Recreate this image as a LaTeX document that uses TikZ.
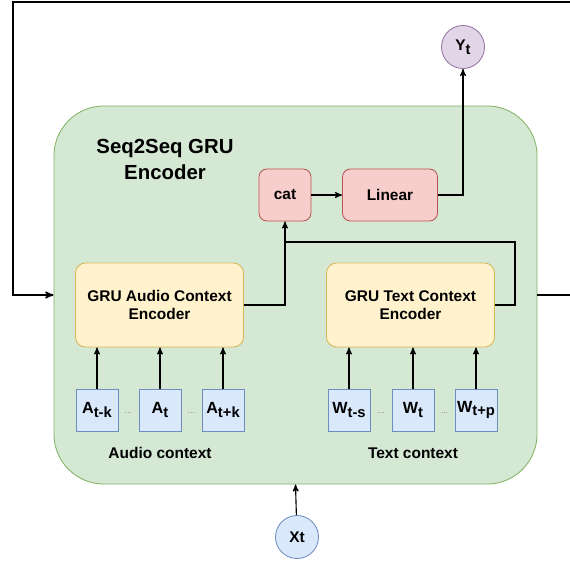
\documentclass[tikz,border=0pt]{standalone}
\usepackage{fontspec}
\setmainfont{Liberation Sans}
\usetikzlibrary{arrows}

\definecolor{encfill}{HTML}{D5E8D4}
\definecolor{encline}{HTML}{82B366}
\definecolor{grufill}{HTML}{FFF2CC}
\definecolor{gruline}{HTML}{D6B656}
\definecolor{opfill}{HTML}{F8CECC}
\definecolor{opline}{HTML}{B85450}
\definecolor{ctxfill}{HTML}{DAE8FC}
\definecolor{ctxline}{HTML}{6C8EBF}
\definecolor{outfill}{HTML}{E1D5E7}
\definecolor{outline}{HTML}{9673A6}

\newcommand{\lowsub}[1]{\raisebox{-0.45ex}{\fontsize{10.5}{11}\selectfont #1}}

\begin{document}
\begin{tikzpicture}[x=0.025cm,y=-0.025cm,>=stealth',thick,
  every node/.style={font=\bfseries\fontsize{11}{13}\selectfont},
  enc/.style={draw=encline,fill=encfill,semithick,rounded corners=1.25cm,
    minimum width=12.075cm,minimum height=9.45cm},
  gru/.style={draw=gruline,fill=grufill,semithick,rounded corners=0.25cm,
    align=center,minimum width=4.2cm,minimum height=2.1cm,inner sep=0pt},
  op/.style={draw=opline,fill=opfill,semithick,rounded corners=0.2cm,
    minimum height=1.3cm,inner sep=0pt},
  ctx/.style={draw=ctxline,fill=ctxfill,semithick,minimum size=1.05cm,
    inner sep=0pt,font=\bfseries\fontsize{11.5}{12}\selectfont},
  dots/.style={text=gray,font=\fontsize{6}{6}\selectfont},
  io/.style={circle,semithick,minimum size=1.075cm,inner sep=0pt}]
\useasboundingbox (0,0) rectangle (570,561);

% encoder block
\node[enc] (enc) at (295.5,295) {};
\node[font=\bfseries\fontsize{14.5}{18.5}\selectfont,align=center]
  (title) at (165,159) {Seq2Seq GRU\\Encoder};

\node[op,minimum width=1.3cm]   (cat)    at (285,195)   {cat};
\node[op,minimum width=2.375cm] (linear) at (390,195)   {Linear};
\node[gru] (audio) at (159.5,305) {GRU Audio Context\\Encoder};
\node[gru] (text)  at (410.5,305) {GRU Text Context\\Encoder};

% context windows
\node[ctx] (a1) at (97,410)  {A\lowsub{t-k}};
\node[ctx] (a2) at (160,410) {A\lowsub{t}};
\node[ctx] (a3) at (223,410) {A\lowsub{t+k}};
\node[ctx] (w1) at (349,410) {W\lowsub{t-s}};
\node[ctx] (w2) at (413,410) {W\lowsub{t}};
\node[ctx] (w3) at (476,410) {W\lowsub{t+p}};
\node[dots] (d1) at (128.5,413) {...};
\node[dots] (d2) at (191.5,413) {...};
\node[dots] (d3) at (381,413)   {...};
\node[dots] (d4) at (444.5,413) {...};
\node (actx) at (160,453) {Audio context};
\node (tctx) at (413,453) {Text context};

% inputs and outputs
\node[io,draw=outline,fill=outfill] (yt) at (463,47)  {Y\lowsub{t}};
\node[io,draw=ctxline,fill=ctxfill] (xt) at (297,537) {Xt};

\coordinate (tbend) at (515,242);
\coordinate (topR)  at (580,2);
\coordinate (topL)  at (13,2);

\path[->] (a1) edge (a1 |- audio.south)
          (a2) edge (a2 |- audio.south)
          (a3) edge (a3 |- audio.south)
          (w1) edge (w1 |- text.south)
          (w2) edge (w2 |- text.south)
          (w3) edge (w3 |- text.south)
          (xt) edge (enc.south)
          (cat) edge (linear);
\draw[->] (audio.east) -| (cat.south);
\draw (text.east) -| (tbend) -- (cat.south |- tbend);
\draw[->] (linear.east) -| (yt.south);
\draw[->,line width=1.1pt] (enc.east) -| (topR) -- (topL) |- (enc.west);

\end{tikzpicture}
\end{document}
